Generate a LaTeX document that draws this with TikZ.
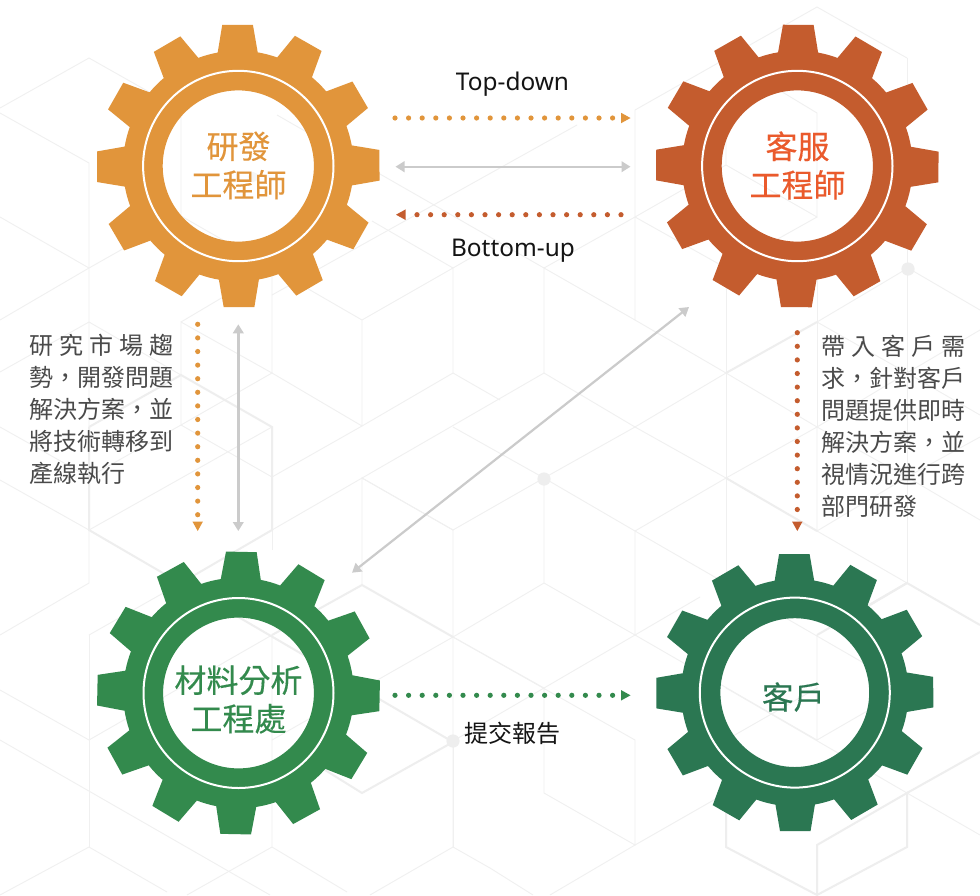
\documentclass[tikz,border=0pt]{standalone}
\usepackage{fontspec}
\usetikzlibrary{arrows.meta}
\newfontfamily\cjk{Noto Sans CJK TC}
\newfontfamily\cjkheavy[FakeBold=0.35]{Noto Sans CJK TC}
\newfontfamily\latn{Noto Sans}
\definecolor{cOrange}{HTML}{E1953B}
\definecolor{cRed}{HTML}{C45C2E}
\definecolor{cRedText}{HTML}{EA5A2C}
\definecolor{cGreenA}{HTML}{338A4D}
\definecolor{cGreenB}{HTML}{2B7752}
\definecolor{cGrey}{HTML}{CBCBCB}
\definecolor{cBody}{HTML}{4A4A4A}
\definecolor{cHex}{HTML}{EEEEEE}
\definecolor{cHexThin}{HTML}{F0F0F0}
\tikzset{
  bgthin/.style={draw=cHexThin,line width=0.9pt,line join=miter},
  bgthick/.style={draw=cHex,line width=2pt,line join=miter},
  bgdot/.style={fill=cHex},
  dotline/.style={line width=5.2pt,line cap=round,dash pattern=on 0pt off 13.6pt},
  dotarrow/.style={dotline,draw=#1,-{Triangle[length=9.5pt,width=10.5pt,fill=#1,line width=0pt]}},
  greyarrow/.style={draw=cGrey,line width=2.4pt,{Triangle[length=9pt,width=10.5pt,fill=cGrey]}-{Triangle[length=9pt,width=10.5pt,fill=cGrey]}},
  gearlabel/.style={inner sep=0pt,align=center,font=\cjkheavy\fontsize{32}{38.5}\selectfont},
  bodytext/.style={inner sep=0pt,align=left,text=cBody,anchor=north west,font=\cjk\fontsize{24}{32}\selectfont},
  flowlabel/.style={inner sep=0pt,text=black!92},
}
% cx cy R rbase tiphalf rot colour rhole rring
\newcommand{\drawgear}[9]{%
  \begin{scope}[shift={(#1,#2)}]
    \fill[#7,even odd rule] (#6-10:#4)
      \foreach \k in {0,30,...,330}{
        -- ({#6+\k-10}:#4) -- ({#6+\k-#5}:#3) -- ({#6+\k+#5}:#3) -- ({#6+\k+10}:#4)
        -- ({#6+\k+12.5}:#4) -- ({#6+\k+15}:#4) -- ({#6+\k+17.5}:#4)
      } -- cycle
      (0,0) circle[radius=#8];
    \draw[white,line width=2pt] (0,0) circle[radius=#9];
  \end{scope}}
\begin{document}
\begin{tikzpicture}[x=1pt,y=-1pt]
\useasboundingbox (0,0) rectangle (980,895);
\fill[white] (0,0) rectangle (980,895);
% background hexagons, thin
\draw[bgthin] (0,108)--(89,58)--(181,110)--(181,216)--(272,268)--(362,320)--(453,268)--(453,373)--(362,426)--(362,320);
\draw[bgthin] (181,216)--(89,268)--(0,320);
\draw[bgthin] (0,217)--(89,268);
\draw[bgthin] (0,113)--(89,163)--(89,427);
\draw[bgthin] (277,115)--(544,268)--(544,373)--(635,427)--(726,478);
\draw[bgthin] (181,322)--(272,268)--(272,373)--(362,426);
\draw[bgthin] (181,425)--(181,322)--(272,373)--(181,425)--(89,477)--(0,427);
\draw[bgthin] (0,372)--(89,322)--(181,375);
\draw[bgthin] (181,425)--(272,477)--(362,426);
\draw[bgthin] (0,480)--(89,530)--(89,583)--(0,635);
\draw[bgthin] (89,530)--(272,427);
\draw[bgthin] (272,530)--(544,373);
\draw[bgthin] (453,373)--(500,400);
\draw[bgthin] (453,268)--(372,221);
\draw[bgthin] (453,268)--(500,241);
\draw[bgthin] (272,295)--(577,125);
\draw[bgthin] (453,427)--(544,478)--(635,427)--(726,373);
\draw[bgthin] (544,478)--(453,530)--(362,478)--(362,585);
\draw[bgthin] (453,530)--(453,637)--(544,583)--(544,478)--(635,531)--(635,635)--(544,583);
\draw[bgthin] (635,531)--(726,478)--(817,427);
\draw[bgthin] (453,637)--(544,688)--(635,635)--(700,597);
\draw[bgthin] (453,637)--(635,740)--(635,845)--(544,793)--(544,688)--(453,741);
\draw[bgthin] (453,637)--(453,847)--(490,868)--(533,895);
\draw[bgthin] (453,847)--(370,895);
\draw[bgthin] (272,847)--(347,892);
\draw[bgthin] (272,847)--(187,895);
\draw[bgthin] (89,847)--(167,892);
\draw[bgthin] (89,847)--(0,895);
\draw[bgthin] (89,635)--(89,847);
\draw[bgthin] (89,635)--(181,583);
\draw[bgthin] (0,690)--(89,740)--(272,635)--(272,847);
\draw[bgthin] (0,740)--(270,895);
\draw[bgthin] (272,740)--(453,637);
\draw[bgthin] (272,530)--(272,550);
\draw[bgthin] (362,478)--(453,530);
\draw[bgthin] (635,845)--(550,895);
\draw[bgthin] (635,845)--(726,793);
\draw[bgthin] (635,531)--(907,688);
\draw[bgthin] (635,635)--(817,740)--(817,635);
\draw[bgthin] (817,740)--(907,688);
\draw[bgthin] (726,688)--(907,793)--(980,835);
\draw[bgthin] (726,740)--(817,688);
\draw[bgthin] (907,583)--(817,531)--(817,427)--(907,477)--(980,437);
\draw[bgthin] (907,477)--(980,520);
\draw[bgthin] (907,477)--(817,531);
\draw[bgthin] (907,373)--(817,427)--(726,373);
\draw[bgthin] (817,322)--(907,373)--(980,415);
\draw[bgthin] (907,373)--(980,330);
\draw[bgthin] (817,280)--(817,427);
\draw[bgthin] (908,268)--(980,310);
\draw[bgthin] (908,268)--(817,322);
\draw[bgthin] (907,245)--(907,583);
\draw[bgthin] (907,58)--(907,95);
\draw[bgthin] (635,110)--(817,7)--(907,58);
\draw[bgthin] (635,110)--(635,320)--(726,373);
\draw[bgthin] (544,268)--(635,320);
\draw[bgthin] (544,268)--(635,217)--(726,165)--(817,217)--(817,113)--(726,58)--(726,165);
\draw[bgthin] (635,217)--(726,268)--(817,217);
\draw[bgthin] (726,268)--(726,600);
\draw[bgthin] (453,742)--(453,847);
% background hexagons, thick
\draw[bgthick] (89,427)--(181,375)--(272,427)--(272,530)--(181,583);
\draw[bgthick] (89,427)--(89,530)--(453,742)--(362,793)--(325,770);
\draw[bgthick] (272,635)--(362,585)--(453,637);
\draw[bgthick] (726,373)--(817,322);
\draw[bgthick] (726,478)--(817,531);
\draw[bgthick] (870,605)--(907,583)--(980,625);
\draw[bgthick] (817,635)--(907,583);
\draw[bgthick] (726,790)--(726,847)--(817,895)--(907,847)--(907,793)--(817,845)--(817,895);
\draw[bgthick] (907,793)--(980,752);
\fill[bgdot] (908,269) circle[radius=6.6];
\fill[bgdot] (544,479) circle[radius=6.6];
\fill[bgdot] (453,741) circle[radius=6.6];
\fill[cHex!60] (253,177) circle[radius=5];
% gears
\drawgear{238.3}{166}{142}{115.3}{6.2}{-0.3}{cOrange}{75.6}{95.2}
\drawgear{797.3}{166}{142}{115.3}{6.2}{0.4}{cRed}{75.6}{95.2}
\drawgear{238.5}{693}{142}{115.3}{6.2}{1.15}{cGreenA}{75.4}{95}
\drawgear{794.8}{692.6}{139.3}{113.7}{6.3}{-0.2}{cGreenB}{74.4}{95}
% labels
\node[gearlabel,text=cOrange] (rd) at (238.5,165.5) {研發\\工程師};
\node[gearlabel,text=cRedText] (cs) at (797.5,165.5) {客服\\工程師};
\node[gearlabel,text=cGreenA] (mat) at (238.5,699.5) {材料分析\\工程處};
\node[gearlabel,text=cGreenB,font=\cjkheavy\fontsize{31.5}{36}\selectfont] (cust) at (793.5,697) {客戶};
\node[flowlabel,font=\latn\fontsize{24.4}{28}\selectfont] (td) at (512.5,84) {Top-down};
\node[flowlabel,font=\latn\fontsize{24.4}{28}\selectfont] (bu) at (513,251) {Bottom-up};
\node[flowlabel,font=\cjk\fontsize{24}{28}\selectfont] (rep) at (512.5,733) {提交報告};
\node[bodytext] (lefttext) at (29,334) {\makebox[144pt][s]{研\hfill 究\hfill 市\hfill 場\hfill 趨}\\勢，開發問題\\解決方案，並\\將技術轉移到\\產線執行};
\node[bodytext] (righttext) at (821,335) {\makebox[144pt][s]{帶\hfill 入\hfill 客\hfill 戶\hfill 需}\\求，針對客戶\\問題提供即時\\解決方案，並\\視情況進行跨\\部門研發};
% connector ends
\coordinate (t1) at (395,118);   \coordinate (t2) at (630.5,118);
\coordinate (g1) at (395.5,166.7); \coordinate (g2) at (630.5,166.7);
\coordinate (b1) at (621,214.7); \coordinate (b2) at (396,214.7);
\coordinate (v1) at (197.7,324.3); \coordinate (v2) at (197.7,531);
\coordinate (w1) at (238.3,324.3); \coordinate (w2) at (238.3,531);
\coordinate (d1) at (689,307);   \coordinate (d2) at (352,572.7);
\coordinate (r1) at (797.3,332.7); \coordinate (r2) at (797.3,531);
\coordinate (n1) at (395,695.3); \coordinate (n2) at (630.5,695.3);
% connectors
\draw[dotarrow=cOrange] (t1) -- (t2);
\draw[greyarrow] (g1) -- (g2);
\draw[dotarrow=cRed] (b1) -- (b2);
\draw[dotarrow=cOrange] (v1) -- (v2);
\draw[greyarrow] (w1) -- (w2);
\draw[greyarrow,line width=2.2pt] (d1) -- (d2);
\draw[dotarrow=cRed] (r1) -- (r2);
\draw[dotarrow=cGreenA] (n1) -- (n2);
\end{tikzpicture}
\end{document}
